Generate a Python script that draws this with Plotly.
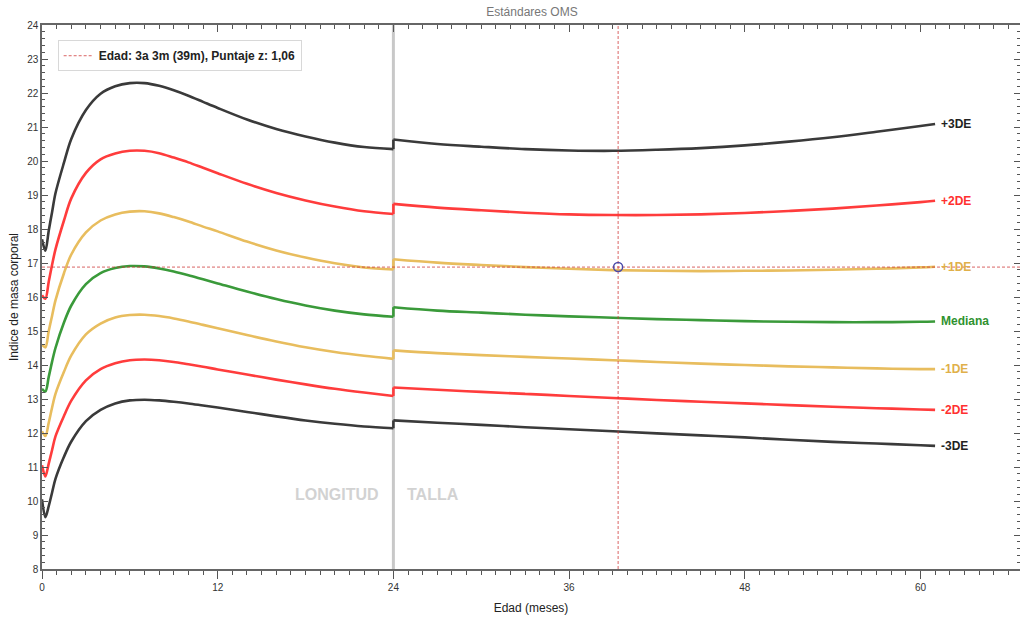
import plotly.graph_objects as go

# ---------------- data ----------------
age_0_24 = [0, 0.23, 0.46, 0.69, 0.92, 1.5, 2, 3, 4, 5, 6, 7, 8, 9, 10, 11, 12, 14, 16, 18, 20, 22, 24]
age_24_61 = [24, 27, 30, 33, 36, 39, 42, 45, 48, 51, 54, 57, 60, 61]

p3_0_24 = [17.70, 17.36, 17.95, 18.50, 19.05, 19.95, 20.65, 21.50, 21.98, 22.20, 22.29, 22.29, 22.21, 22.08, 21.92, 21.74, 21.56, 21.22, 20.94, 20.72, 20.54, 20.41, 20.35]
p2_0_24 = [16.05, 15.95, 16.45, 16.95, 17.40, 18.25, 18.90, 19.65, 20.05, 20.22, 20.30, 20.30, 20.23, 20.10, 19.96, 19.80, 19.64, 19.33, 19.06, 18.84, 18.66, 18.52, 18.44]
p1_0_24 = [14.60, 14.52, 15.00, 15.45, 15.90, 16.70, 17.25, 17.90, 18.25, 18.43, 18.51, 18.52, 18.46, 18.35, 18.22, 18.07, 17.93, 17.63, 17.37, 17.16, 16.99, 16.87, 16.81]
med_0_24 = [13.30, 13.22, 13.65, 14.10, 14.50, 15.25, 15.75, 16.38, 16.70, 16.85, 16.91, 16.90, 16.84, 16.75, 16.64, 16.52, 16.40, 16.16, 15.94, 15.75, 15.60, 15.49, 15.42]
m1_0_24 = [12.05, 11.91, 12.30, 12.75, 13.15, 13.80, 14.28, 14.90, 15.22, 15.40, 15.47, 15.48, 15.44, 15.37, 15.28, 15.18, 15.08, 14.88, 14.69, 14.52, 14.38, 14.27, 14.18]
m2_0_24 = [11.05, 10.72, 11.10, 11.50, 11.90, 12.50, 12.95, 13.55, 13.88, 14.05, 14.14, 14.16, 14.14, 14.09, 14.02, 13.95, 13.87, 13.72, 13.57, 13.43, 13.30, 13.19, 13.09]
m3_0_24 = [10.05, 9.52, 9.85, 10.25, 10.65, 11.30, 11.75, 12.35, 12.68, 12.87, 12.96, 12.98, 12.96, 12.92, 12.87, 12.81, 12.75, 12.62, 12.49, 12.37, 12.27, 12.19, 12.14]

p3_24_61 = [20.63, 20.50, 20.42, 20.35, 20.31, 20.30, 20.33, 20.38, 20.46, 20.57, 20.70, 20.86, 21.03, 21.09]
p2_24_61 = [18.74, 18.63, 18.55, 18.48, 18.43, 18.41, 18.41, 18.43, 18.47, 18.53, 18.60, 18.69, 18.79, 18.83]
p1_24_61 = [17.11, 17.01, 16.94, 16.88, 16.83, 16.79, 16.77, 16.76, 16.77, 16.78, 16.80, 16.83, 16.87, 16.89]
med_24_61 = [15.70, 15.60, 15.54, 15.48, 15.43, 15.39, 15.35, 15.32, 15.29, 15.27, 15.26, 15.26, 15.27, 15.28]
m1_24_61 = [14.43, 14.35, 14.29, 14.24, 14.19, 14.14, 14.09, 14.04, 14.00, 13.96, 13.93, 13.90, 13.88, 13.88]
m2_24_61 = [13.34, 13.27, 13.21, 13.15, 13.09, 13.03, 12.97, 12.92, 12.87, 12.82, 12.77, 12.73, 12.69, 12.68]
m3_24_61 = [12.37, 12.30, 12.24, 12.17, 12.11, 12.05, 11.99, 11.93, 11.87, 11.80, 11.74, 11.69, 11.64, 11.62]

curve_labels = ["+3DE", "+2DE", "+1DE", "Mediana", "-1DE", "-2DE", "-3DE"]
curve_colors = ["#3a3a3a", "#ff3c3c", "#e8bd5e", "#3a9a3a", "#e8bd5e", "#ff3c3c", "#3a3a3a"]
label_colors = ["#222222", "#ff3030", "#e0b04a", "#2f922f", "#e0b04a", "#ff3030", "#222222"]
curves_0_24 = [p3_0_24, p2_0_24, p1_0_24, med_0_24, m1_0_24, m2_0_24, m3_0_24]
curves_24_61 = [p3_24_61, p2_24_61, p1_24_61, med_24_61, m1_24_61, m2_24_61, m3_24_61]

point_age = 39.35
point_bmi = 16.88
legend_text = "Edad: 3a 3m (39m), Puntaje z: 1,06"

x_range = [0, 66.8]
y_range = [8, 24]

# ---------------- figure ----------------
fig = go.Figure()
FONT = "Liberation Sans, Arial, sans-serif"

for lab, col, a, b in zip(curve_labels, curve_colors, curves_0_24, curves_24_61):
    # length-based segment (0-24 months)
    fig.add_trace(go.Scatter(
        x=age_0_24, y=a, mode="lines",
        line=dict(color=col, width=2.6, shape="spline", smoothing=0.9),
        showlegend=False, name=lab, hoverinfo="skip"))
    # jump at 24 months (length -> height)
    fig.add_trace(go.Scatter(
        x=[age_0_24[-1], age_24_61[0]], y=[a[-1], b[0]], mode="lines",
        line=dict(color=col, width=2.6), showlegend=False, hoverinfo="skip"))
    # height-based segment (24-61 months)
    fig.add_trace(go.Scatter(
        x=age_24_61, y=b, mode="lines",
        line=dict(color=col, width=2.6, shape="spline", smoothing=1.0),
        showlegend=False, name=lab, hoverinfo="skip"))

# marker lines (dashed)
fig.add_trace(go.Scatter(
    x=x_range, y=[point_bmi, point_bmi], mode="lines",
    line=dict(color="rgba(205,50,50,0.75)", width=1, dash="3px,2px"),
    name="<b>" + legend_text + "</b>", showlegend=True, hoverinfo="skip"))
fig.add_trace(go.Scatter(
    x=[point_age, point_age], y=y_range, mode="lines",
    line=dict(color="rgba(205,50,50,0.75)", width=1, dash="3px,2px"),
    showlegend=False, hoverinfo="skip"))
fig.add_trace(go.Scatter(
    x=[point_age], y=[point_bmi], mode="markers",
    marker=dict(symbol="circle-open", size=9, color="#4a4aa8", line=dict(width=1.5)),
    showlegend=False, hoverinfo="skip"))

# dummy traces for mirror axes
fig.add_trace(go.Scatter(x=[None], y=[None], xaxis="x2", yaxis="y", showlegend=False, hoverinfo="skip"))
fig.add_trace(go.Scatter(x=[None], y=[None], xaxis="x", yaxis="y2", showlegend=False, hoverinfo="skip"))

# separation line at 24 months
fig.add_shape(type="line", x0=24, x1=24, y0=0, y1=1, xref="x", yref="paper",
              line=dict(color="#c8c8c8", width=3), layer="below")

# curve labels on the right
for lab, col, b in zip(curve_labels, label_colors, curves_24_61):
    fig.add_annotation(x=age_24_61[-1], y=b[-1], text="<b>" + lab + "</b>",
                       xanchor="left", yanchor="middle", xshift=4, showarrow=False,
                       font=dict(family=FONT, size=12, color=col))

fig.add_annotation(x=24, y=10.2, text="<b>LONGITUD</b>", xanchor="right", xshift=-12,
                   showarrow=False, font=dict(family=FONT, size=16, color="#d2d2d2"))
fig.add_annotation(x=24, y=10.2, text="<b>TALLA</b>", xanchor="left", xshift=12,
                   showarrow=False, font=dict(family=FONT, size=16, color="#d2d2d2"))

axis_common = dict(showgrid=False, zeroline=False, linecolor="#666666", tickcolor="#555555",
                   tickfont=dict(family=FONT, size=10, color="#333333"))

fig.update_layout(
    width=1023, height=623,
    margin=dict(l=42, r=3, t=25, b=54),
    paper_bgcolor="white", plot_bgcolor="white",
    title=dict(text="Estándares OMS", x=0.52, xanchor="center", y=1 - 12 / 623, yanchor="middle",
               yref="container", font=dict(family=FONT, size=12, color="#777777")),
    showlegend=True,
    legend=dict(x=0.016, y=0.972, xanchor="left", yanchor="top", bgcolor="white",
                bordercolor="#d8d8d8", borderwidth=1,
                font=dict(family=FONT, size=12, color="#222222")),
    xaxis=dict(range=x_range, dtick=12, tick0=0, ticks="outside", ticklen=8, showline=True,
               linewidth=2, minor=dict(dtick=1, ticks="outside", ticklen=4, tickcolor="#555555"),
               title=dict(text="Edad (meses)", standoff=12, font=dict(family=FONT, size=12, color="#222222")),
               **axis_common),
    xaxis2=dict(range=x_range, overlaying="x", side="top", anchor="y", dtick=12, tick0=0,
                ticks="inside", ticklen=7, showline=True, linewidth=1.5, showticklabels=False,
                minor=dict(dtick=1, ticks="inside", ticklen=4, tickcolor="#555555"),
                **axis_common),
    yaxis=dict(range=y_range, dtick=1, tick0=8, ticks="inside", ticklen=6, showline=True,
               linewidth=1.5, minor=dict(dtick=0.2, ticks="inside", ticklen=3, tickcolor="#555555"),
               title=dict(text="Indice de masa corporal", standoff=6,
                          font=dict(family=FONT, size=12, color="#222222")),
               **axis_common),
    yaxis2=dict(range=y_range, overlaying="y", side="right", anchor="x", dtick=1, tick0=8,
                ticks="inside", ticklen=6, showline=False, showticklabels=False,
                minor=dict(dtick=0.2, ticks="inside", ticklen=3, tickcolor="#555555"),
                **axis_common),
)

fig.write_html("out.html")
